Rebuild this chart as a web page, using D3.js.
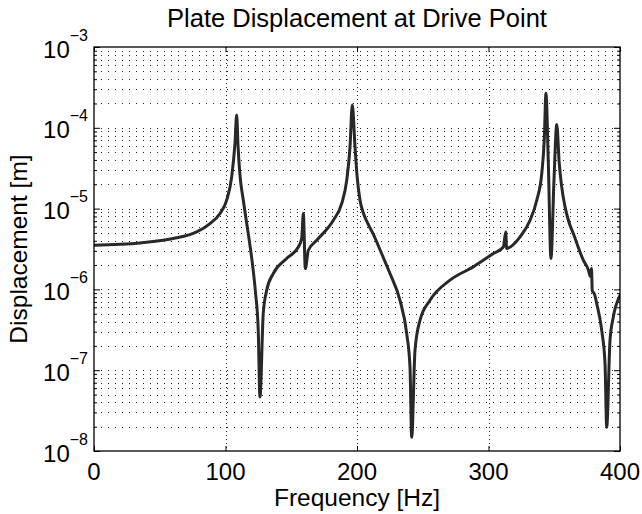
<!DOCTYPE html>
<html>
<head>
<meta charset="utf-8">
<script src="https://cdn.jsdelivr.net/npm/d3@7"></script>
<style>
    body { margin: 0; background: #fff; }
    text { font-family: 'Liberation Sans', Arial, sans-serif; fill: #000; }
</style>
</head>
<body>
<script>
// frequency [Hz] and displacement [m]
const freq = [0, 35.0, 60.3, 78.1, 88.2, 95.8, 100.9, 104.7, 107.2, 108.5,
    109.5, 111.0, 113.3, 116.0, 118.6, 120.9, 122.8, 124.9, 126.2, 128.7, 131.3,
    136.3, 146.5, 155.4, 157.9, 159.2, 160.7, 163.0, 169.4, 182.0, 188.4,
    192.2, 194.7, 196.4, 198.5, 200.0, 202.3, 204.9, 207.4, 212.4, 218.3, 225.1, 232.7, 237.8,
    240.3, 241.6, 244.1, 247.9, 255.5, 270.7, 288.4, 303.7, 311.3, 313.1,
    313.8, 324.0, 331.6, 336.7, 340.5, 342.4, 343.7, 345.5, 347.5, 349.8,
    351.9, 353.8, 355.5, 358.2, 361.2, 364.5, 372.1, 376.0, 377.4, 378.3, 378.9, 380.6,
    382.3, 386.1, 388.6, 389.9, 392.4, 394.9, 400];

const disp = [3.52e-6, 3.76e-6, 4.26e-6, 5.14e-6, 6.53e-6, 8.69e-6, 1.27e-5, 2.47e-5, 6.41e-5, 1.44e-4,
    6.11e-5, 2.59e-5, 1.35e-5, 6.78e-6, 3.52e-6, 1.82e-6, 9.2e-7, 3.11e-7, 4.65e-8, 5.01e-7, 9.75e-7,
    1.57e-6, 2.41e-6, 3.35e-6, 4.26e-6, 8.69e-6, 1.81e-6, 3.05e-6, 4.06e-6, 7.18e-6, 1.16e-5,
    2.25e-5, 5.82e-5, 1.91e-4, 5.82e-5, 2.59e-5, 1.27e-5, 8.77e-6, 6.98e-6, 4.82e-6, 2.88e-6, 1.57e-6, 7.33e-7, 2.83e-7,
    1.09e-7, 1.48e-8, 1.76e-7, 4.14e-7, 7.33e-7, 1.30e-6, 1.90e-6, 2.78e-6, 3.35e-6, 5.14e-6,
    3.21e-6, 4.46e-6, 7.18e-6, 1.27e-5, 2.72e-5, 7.05e-5, 2.67e-4, 3.62e-5, 2.41e-6, 2.25e-5,
    1.10e-4, 3.62e-5, 1.95e-5, 1.05e-5, 6.78e-6, 4.91e-6, 2.30e-6, 1.73e-6, 1.45e-6, 1.82e-6, 9.75e-7, 8.69e-7,
    6.67e-7, 3.11e-7, 1.21e-7, 1.97e-8, 2.34e-7, 4.55e-7, 8.45e-7];

const xTicks = [0, 100, 200, 300, 400];
const yExponents = [-8, -7, -6, -5, -4, -3];

const title = 'Plate Displacement at Drive Point';
const xLabel = 'Frequency [Hz]';
const yLabel = 'Displacement [m]';

drawChart();

function drawChart()
{
    const width = 642;
    const height = 514;

    const marginTop = 47;
    const marginRight = 22;
    const marginBottom = 63;
    const marginLeft = 94;

    const data = freq.map((f, i) => ({ f: f, v: disp[i] }));

    const svg = d3.select('body').append('svg')
        .attr('width', width)
        .attr('height', height);

    svg.append('rect')
        .attr('width', width)
        .attr('height', height)
        .attr('fill', '#fff');

    const x = d3.scaleLinear()
        .domain([0, 400])
        .range([marginLeft, width - marginRight]);

    const y = d3.scaleLog()
        .domain([1e-8, 1e-3])
        .range([height - marginBottom, marginTop]);

    const majorY = yExponents.map(e => Math.pow(10, e));
    const allY = y.ticks();
    const minorY = allY.filter(d => !majorY.some(m => Math.abs(m - d) / m < 1e-6));

    // horizontal dotted gridlines (major and minor)
    svg.selectAll('line.hgrid')
        .data(allY.filter(d => d > 1e-8 && d < 1e-3))
        .enter()
        .append('line')
        .attr('class', 'hgrid')
        .attr('x1', x(0))
        .attr('x2', x(400))
        .attr('y1', d => Math.round(y(d)) + 0.5)
        .attr('y2', d => Math.round(y(d)) + 0.5)
        .attr('stroke', '#222')
        .attr('stroke-width', 1)
        .attr('stroke-dasharray', '1 6');

    // vertical dotted gridlines
    svg.selectAll('line.vgrid')
        .data(xTicks.slice(1, -1))
        .enter()
        .append('line')
        .attr('class', 'vgrid')
        .attr('x1', d => Math.round(x(d)) + 0.5)
        .attr('x2', d => Math.round(x(d)) + 0.5)
        .attr('y1', y(1e-3))
        .attr('y2', y(1e-8))
        .attr('stroke', '#222')
        .attr('stroke-width', 1)
        .attr('stroke-dasharray', '1 3');

    // axes with inward ticks
    const axisX = (axis, ty) => svg.append('g')
        .attr('transform', `translate(0, ${ty})`)
        .call(axis.tickValues(xTicks).tickFormat('').tickSizeOuter(0))
        .call(g => g.select('.domain').remove());

    axisX(d3.axisBottom(x).tickSizeInner(-5), y(1e-8));
    axisX(d3.axisTop(x).tickSizeInner(-5), y(1e-3));

    const axisY = (make, tx, dir) =>
    {
        svg.append('g')
            .attr('transform', `translate(${tx}, 0)`)
            .call(make(y).tickValues(majorY).tickFormat('').tickSizeInner(dir * 6).tickSizeOuter(0))
            .call(g => g.select('.domain').remove());
        svg.append('g')
            .attr('transform', `translate(${tx}, 0)`)
            .call(make(y).tickValues(minorY).tickFormat('').tickSizeInner(dir * 3).tickSizeOuter(0))
            .call(g => g.select('.domain').remove());
    };

    axisY(d3.axisLeft, x(0), -1);
    axisY(d3.axisRight, x(400), -1);

    // curve
    svg.append('clipPath')
        .attr('id', 'clip')
        .append('rect')
        .attr('x', x(0))
        .attr('y', y(1e-3))
        .attr('width', x(400) - x(0))
        .attr('height', y(1e-8) - y(1e-3));

    const line = d3.line()
        .x(d => x(d.f))
        .y(d => y(d.v))
        .curve(d3.curveMonotoneX);

    svg.append('path')
        .datum(data)
        .attr('clip-path', 'url(#clip)')
        .attr('d', line)
        .attr('fill', 'none')
        .attr('stroke', '#282828')
        .attr('stroke-width', 3)
        .attr('stroke-linejoin', 'round')
        .attr('stroke-linecap', 'round');

    // box
    svg.append('rect')
        .attr('x', x(0))
        .attr('y', y(1e-3))
        .attr('width', x(400) - x(0))
        .attr('height', y(1e-8) - y(1e-3))
        .attr('fill', 'none')
        .attr('stroke', '#000')
        .attr('stroke-width', 1.3);

    // x tick labels
    svg.selectAll('text.xtick')
        .data(xTicks)
        .enter()
        .append('text')
        .attr('class', 'xtick')
        .attr('x', d => x(d))
        .attr('y', y(1e-8) + 29)
        .attr('text-anchor', 'middle')
        .style('font-size', '24px')
        .text(d => d);

    // y tick labels with superscript exponents
    const yt = svg.selectAll('text.ytick')
        .data(yExponents)
        .enter()
        .append('text')
        .attr('class', 'ytick')
        .attr('x', x(0) - 6)
        .attr('y', e => y(Math.pow(10, e)) + 10.5)
        .attr('text-anchor', 'end')
        .style('font-size', '24px');

    yt.append('tspan').text('10');
    yt.append('tspan')
        .attr('dy', -17)
        .style('font-size', '16px')
        .text(e => '\u2212' + Math.abs(e));

    // titles
    svg.append('text')
        .attr('x', (x(0) + x(400)) / 2)
        .attr('y', 27)
        .attr('text-anchor', 'middle')
        .style('font-size', '25.5px')
        .text(title);

    svg.append('text')
        .attr('x', (x(0) + x(400)) / 2)
        .attr('y', 506)
        .attr('text-anchor', 'middle')
        .style('font-size', '24.5px')
        .text(xLabel);

    svg.append('text')
        .attr('transform', `translate(27, ${(y(1e-3) + y(1e-8)) / 2}) rotate(-90)`)
        .attr('text-anchor', 'middle')
        .style('font-size', '24.5px')
        .text(yLabel);
}
</script>
</body>
</html>
